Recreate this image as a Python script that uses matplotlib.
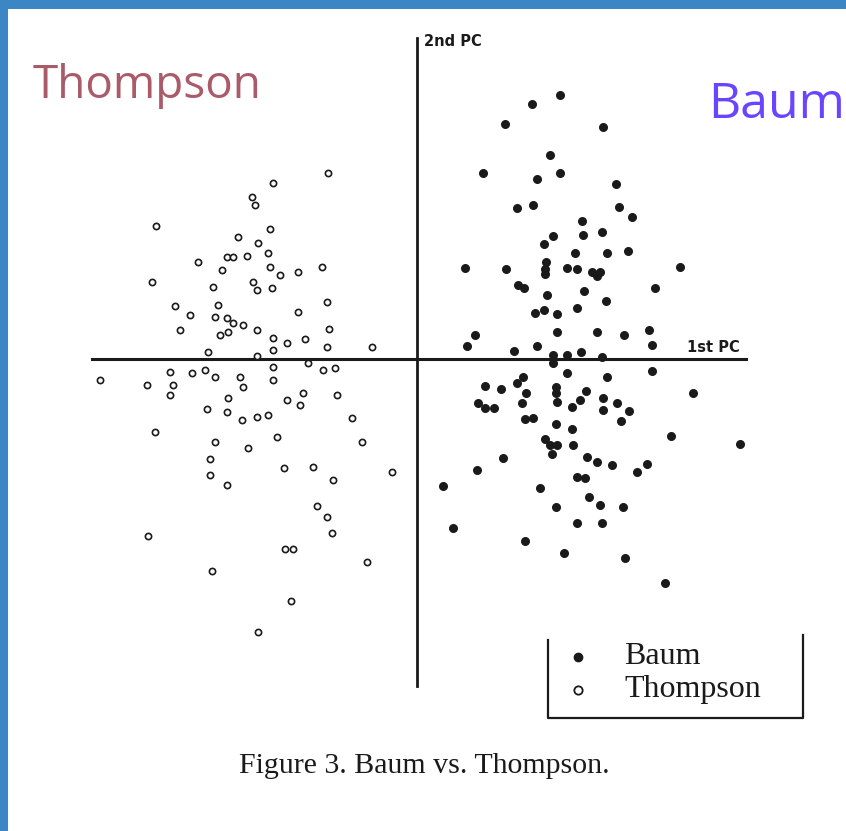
import matplotlib.pyplot as plt

# PC scores (arbitrary units)
baum_pc1 = [1.43, 1.15, 0.88, 1.86, 1.33, 0.66, 1.43, 1.20, 1.99, 1.00, 1.16, 2.02, 2.15, 1.65,
            1.85, 1.66, 1.36, 1.27, 1.58, 1.90, 2.11, 1.29, 0.48, 0.89, 1.28, 1.50, 1.60, 1.75,
            1.83, 1.80, 1.28, 2.63, 1.01, 1.07, 1.30, 1.67, 2.38, 1.89, 1.18, 1.27, 1.40, 1.60,
            1.40, 1.80, 2.07, 2.32, 0.58, 0.50, 0.97, 1.20, 2.35, 1.36, 1.50, 1.64, 1.85,
            2.35, 1.36, 1.50, 1.90, 1.06, 1.00, 0.68, 0.84, 1.09, 1.39, 1.39, 1.40, 1.69, 1.63,
            1.55, 1.86, 1.86, 2.00, 2.12, 2.04, 0.61, 0.68, 0.77, 1.05, 1.08, 1.16, 2.76, 1.39,
            1.55, 2.54, 1.28, 1.33, 1.40, 1.35, 1.56, 1.70, 1.80, 1.95, 2.20, 2.30, 0.86, 0.60,
            3.23, 0.26, 1.23, 1.60, 1.68, 1.72, 1.83, 1.39, 2.06, 1.60, 1.85, 0.36, 1.08, 1.47,
            2.08, 2.48]
baum_pc2 = [2.64, 2.55, 2.35, 2.32, 2.04, 1.86, 1.86, 1.80, 1.75, 1.51, 1.54, 1.52, 1.42, 1.38,
            1.27, 1.24, 1.23, 1.15, 1.06, 1.06, 1.08, 0.97, 0.91, 0.90, 0.90, 0.91, 0.90, 0.87,
            0.87, 0.83, 0.85, 0.92, 0.74, 0.71, 0.64, 0.68, 0.71, 0.58, 0.46, 0.49, 0.45, 0.51,
            0.27, 0.27, 0.24, 0.29, 0.24, 0.13, 0.08, 0.13, 0.14, 0.04, 0.04, 0.07, 0.02,
            -0.12, -0.04, -0.14, -0.18, -0.18, -0.24, -0.27, -0.30, -0.34, -0.28, -0.34, -0.43,
            -0.32, -0.41, -0.48, -0.39, -0.51, -0.44, -0.52, -0.62, -0.44, -0.49, -0.49, -0.44,
            -0.60, -0.59, -0.34, -0.65, -0.70, -0.77, -0.80, -0.86, -0.86, -0.95, -0.86, -0.98,
            -1.03, -1.06, -1.13, -1.05, -0.99, -1.11, -0.85, -1.27, -1.29, -1.18, -1.19, -1.38,
            -1.46, -1.48, -1.48, -1.64, -1.64, -1.69, -1.82, -1.94, -1.99, -2.24]

thompson_pc1 = [-0.89, -1.44, -1.65, -1.62, -2.61, -1.47, -1.79, -1.59, -1.49, -1.90, -1.84,
                -1.70, -2.19, -1.95, -1.47, -1.37, -1.19, -0.95, -2.65, -2.04, -1.64, -1.60,
                -1.45, -0.90, -2.42, -2.27, -1.99, -2.02, -1.90, -1.84, -1.74, -1.60, -1.97,
                -1.89, -2.37, -1.19, -0.88, -1.44, -1.30, -1.12, -1.44, -0.90, -0.45, -2.09,
                -1.60, -1.44, -1.09, -0.94, -0.82, -3.17, -2.70, -2.47, -2.44, -2.25, -2.12,
                -2.02, -1.77, -1.74, -1.44, -1.14, -0.80, -2.47, -1.89, -2.10, -1.90, -1.75,
                -1.60, -1.49, -1.30, -1.17, -0.65, -2.62, -2.02, -1.40, -1.69, -0.55, -2.07,
                -1.33, -1.04, -2.07, -1.90, -0.84, -0.25, -1.00, -0.90, -0.85, -2.69, -1.32,
                -1.24, -0.50, -2.05, -1.26, -1.59]
thompson_pc2 = [1.86, 1.76, 1.62, 1.54, 1.33, 1.30, 1.22, 1.16, 1.06, 1.02, 1.02, 1.03, 0.97,
                0.89, 0.92, 0.84, 0.87, 0.92, 0.77, 0.72, 0.77, 0.69, 0.71, 0.57, 0.53, 0.44,
                0.54, 0.42, 0.41, 0.36, 0.34, 0.29, 0.24, 0.27, 0.29, 0.47, 0.30, 0.21, 0.16,
                0.20, 0.09, 0.12, 0.12, 0.07, 0.03, -0.08, -0.04, -0.11, -0.09, -0.21, -0.26,
                -0.13, -0.26, -0.14, -0.11, -0.18, -0.18, -0.28, -0.21, -0.34, -0.36, -0.36,
                -0.39, -0.50, -0.53, -0.61, -0.58, -0.56, -0.41, -0.46, -0.59, -0.73, -0.83,
                -0.78, -0.89, -0.83, -1.00, -1.09, -1.08, -1.16, -1.26, -1.21, -1.13, -1.47,
                -1.58, -1.74, -1.77, -1.90, -1.90, -2.03, -2.12, -2.42, -2.73]

ink = '#1a1a1a'
serif = 'Liberation Serif'

fig = plt.figure(figsize=(8.46, 8.31), dpi=100)
fig.patch.set_facecolor('#3d86c6')
# white slide panel
fig.patches.append(plt.Rectangle((8 / 846, 0), 1, 1 - 9 / 831, transform=fig.transFigure,
                                 facecolor='white', edgecolor='none', zorder=-1))

ax = fig.add_axes([0, 0, 1, 1])
ax.set_xlim(-4.17, 4.29)
ax.set_ylim(-4.72, 3.59)
ax.axis('off')

# PC axes
ax.plot([-3.25, 3.29], [0, 0], color=ink, lw=2.2, zorder=2)
ax.plot([0, 0], [-3.27, 3.21], color=ink, lw=2.0, zorder=2)
ax.text(0.07, 3.17, '2nd PC', fontsize=10.5, fontweight='bold', color=ink, va='center')
ax.text(2.70, 0.11, '1st PC', fontsize=10.5, fontweight='bold', color=ink, va='center')

ax.scatter(baum_pc1, baum_pc2, s=30, marker='o', color=ink, zorder=3)
ax.scatter(thompson_pc1, thompson_pc2, s=20, marker='o', facecolor='white',
           edgecolor=ink, linewidth=1.2, zorder=3)

# legend box (top edge cut off in the scan)
ax.plot([1.31, 1.31, 3.86, 3.86], [-2.81, -3.59, -3.59, -2.76], color=ink, lw=1.6)
ax.plot([1.61], [-2.98], marker='o', ms=6, color=ink)
ax.plot([1.61], [-3.31], marker='o', ms=6, mfc='white', mec=ink, mew=1.3)
ax.text(2.07, -2.98, 'Baum', fontsize=23, family=serif, color=ink, va='center')
ax.text(2.07, -3.31, 'Thompson', fontsize=23, family=serif, color=ink, va='center')

fig.text(424 / 846, 1 - 766 / 831, 'Figure 3. Baum vs. Thompson.', fontsize=21.5,
         family=serif, color=ink, ha='center', va='center')

fig.text(33 / 846, 1 - 98 / 831, 'Thompson', fontsize=33, family='Open Sans',
         color='#a95b69', ha='left', va='baseline')
fig.text(708 / 846, 1 - 118 / 831, 'Baum', fontsize=36, family='Open Sans',
         color='#6a45ff', ha='left', va='baseline')

fig.savefig('out.png', dpi=100, facecolor=fig.get_facecolor())
